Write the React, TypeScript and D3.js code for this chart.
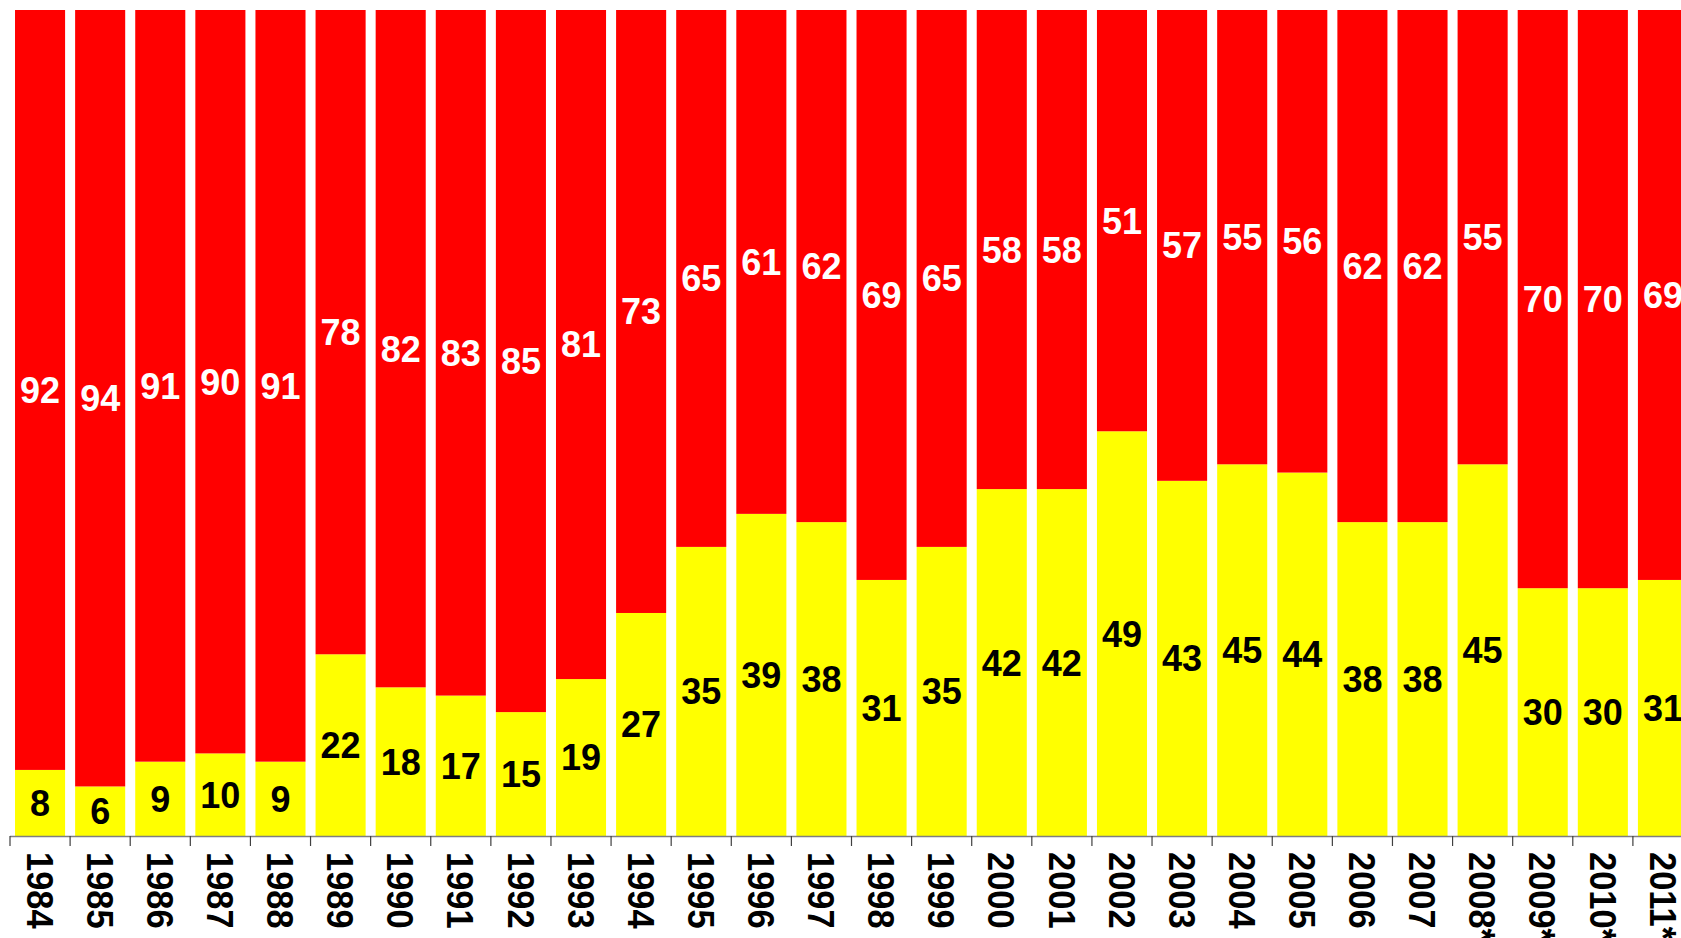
import React, { useEffect, useRef } from 'react';
import * as d3 from 'd3';

// share per year, in percent (yellow at the bottom, red on top)
const years = [
    '1984', '1985', '1986', '1987', '1988', '1989', '1990', '1991', '1992', '1993',
    '1994', '1995', '1996', '1997', '1998', '1999', '2000', '2001', '2002', '2003',
    '2004', '2005', '2006', '2007', '2008*', '2009*', '2010*', '2011*',
];
const yellowValues = [8, 6, 9, 10, 9, 22, 18, 17, 15, 19, 27, 35, 39, 38, 31, 35, 42, 42, 49, 43, 45, 44, 38, 38, 45, 30, 30, 31];
const redValues = [92, 94, 91, 90, 91, 78, 82, 83, 85, 81, 73, 65, 61, 62, 69, 65, 58, 58, 51, 57, 55, 56, 62, 62, 55, 70, 70, 69];

const App = () => {
    const svgRef = useRef<SVGSVGElement>(null);
    const width = 1681;
    const height = 938;
    const margin = { top: 10, left: 10, bottom: 836 };

    useEffect(() => {
        const svg = d3.select(svgRef.current);
        svg.selectAll('*').remove();

        const data = years.map((year, i) => ({ year, yellow: yellowValues[i], red: redValues[i] }));

        const x = d3.scaleBand()
            .domain(years)
            .range([margin.left, 1693])
            .paddingInner(0.167)
            .paddingOuter(0.0835);

        const y = d3.scaleLinear()
            .domain([0, 100])
            .range([margin.bottom, margin.top]);

        const font = "'Liberation Sans', Arial, sans-serif";

        // bars: yellow bottom part, red on top
        const bar = svg.append('g')
            .selectAll('g')
            .data(data)
            .join('g');

        bar.append('rect')
            .attr('x', d => x(d.year))
            .attr('y', d => y(d.yellow))
            .attr('width', x.bandwidth())
            .attr('height', d => y(0) - y(d.yellow))
            .attr('fill', '#ffff00');

        bar.append('rect')
            .attr('x', d => x(d.year))
            .attr('y', d => y(d.yellow + d.red))
            .attr('width', x.bandwidth())
            .attr('height', d => y(d.yellow) - y(d.yellow + d.red))
            .attr('fill', '#ff0000');

        // value labels in the middle of each segment
        bar.append('text')
            .attr('x', d => x(d.year) + x.bandwidth() / 2)
            .attr('y', d => y(d.yellow / 2))
            .attr('dy', '0.36em')
            .attr('text-anchor', 'middle')
            .attr('font-family', font)
            .attr('font-weight', 'bold')
            .attr('font-size', 36)
            .attr('fill', 'black')
            .text(d => d.yellow);

        bar.append('text')
            .attr('x', d => x(d.year) + x.bandwidth() / 2)
            .attr('y', d => y(d.yellow + d.red / 2))
            .attr('dy', '0.36em')
            .attr('text-anchor', 'middle')
            .attr('font-family', font)
            .attr('font-weight', 'bold')
            .attr('font-size', 36)
            .attr('fill', 'white')
            .text(d => d.red);

        // x axis: ticks sit between the bars
        const step = x.step();
        const axis = svg.append('g');
        axis.append('line')
            .attr('x1', margin.left)
            .attr('x2', width)
            .attr('y1', y(0) + 0.5)
            .attr('y2', y(0) + 0.5)
            .attr('stroke', '#7f7f7f')
            .attr('stroke-width', 1.5);

        axis.selectAll('line.tick')
            .data(years)
            .join('line')
            .attr('class', 'tick')
            .attr('x1', d => x(d) - step * x.paddingInner() / 2)
            .attr('x2', d => x(d) - step * x.paddingInner() / 2)
            .attr('y1', y(0))
            .attr('y2', y(0) + 10)
            .attr('stroke', '#404040')
            .attr('stroke-width', 1.2);

        // year labels, rotated to read downwards
        axis.selectAll('text')
            .data(years)
            .join('text')
            .attr('transform', d => `translate(${x(d) + x.bandwidth() / 2}, ${y(0) + 16}) rotate(90) scale(0.93, 1)`)
            .attr('dy', '0.36em')
            .attr('text-anchor', 'start')
            .attr('font-family', font)
            .attr('font-weight', 'bold')
            .attr('font-size', 37)
            .attr('fill', 'black')
            .text(d => d);
    }, []);

    return (
        <svg
            ref={svgRef}
            width={width}
            height={height}
            style={{ position: 'absolute', left: 0, top: 0, display: 'block', background: 'white' }}
        ></svg>
    );
};

export default App;
